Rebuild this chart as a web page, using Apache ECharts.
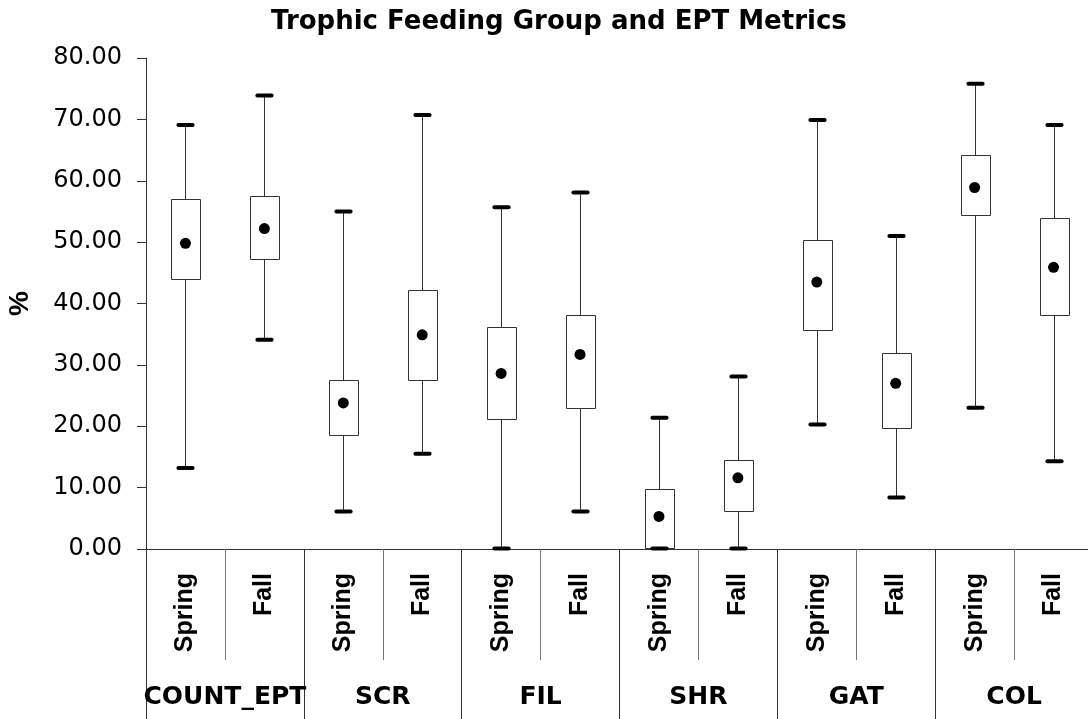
<!DOCTYPE html>
<html>
<head>
<meta charset="utf-8">
<title>Trophic Feeding Group and EPT Metrics</title>
<script src="https://cdn.jsdelivr.net/npm/echarts@6/dist/echarts.min.js"></script>
<style>
  html, body { margin: 0; padding: 0; background: #ffffff; }
  #chart { width: 1088px; height: 719px; }
</style>
</head>
<body>
<div id="chart"></div>
<script>
// Metric groups and sampling seasons
const groups = ['COUNT_EPT', 'SCR', 'FIL', 'SHR', 'GAT', 'COL'];
const seasons = ['Spring', 'Fall'];
const categories = ['Spring', 'Fall', 'Spring', 'Fall', 'Spring', 'Fall',
                    'Spring', 'Fall', 'Spring', 'Fall', 'Spring', 'Fall'];

// Box statistics per group/season (%)
const minValues  = [13.2, 34.1,  6.1, 15.5,  0.1,  6.1,  0.1,  0.1, 20.3,  8.4, 23.0, 14.3];
const q1Values   = [44.1, 47.3, 18.5, 27.6, 21.2, 22.9,  0.2,  6.2, 35.8, 19.7, 54.4, 38.2];
const q3Values   = [57.1, 57.5, 27.5, 42.2, 36.2, 38.1,  9.8, 14.5, 50.4, 31.9, 64.2, 54.0];
const maxValues  = [69.1, 73.9, 55.0, 70.7, 55.7, 58.1, 21.4, 28.1, 69.9, 51.0, 75.8, 69.1];
const meanValues = [49.8, 52.2, 23.8, 34.9, 28.6, 31.7,  5.3, 11.6, 43.5, 27.0, 58.9, 45.9];

// Y axis ticks
const yMin = 0, yMax = 80, yStep = 10;

const boxData = categories.map((c, i) => [i, minValues[i], q1Values[i], q3Values[i], maxValues[i]]);
const meanData = categories.map((c, i) => [i, meanValues[i]]);

const chart = echarts.init(document.getElementById('chart'), null, { renderer: 'canvas' });

// Whisker, interquartile box and end caps for one category
function renderBox(params, api) {
  const x = api.value(0);
  const lo = api.coord([x, api.value(1)]);
  const q1 = api.coord([x, api.value(2)]);
  const q3 = api.coord([x, api.value(3)]);
  const hi = api.coord([x, api.value(4)]);
  const band = api.size([1, 0])[0];
  const boxW = band * 0.37;
  const capHalf = band * 0.09;
  const cx = Math.round(lo[0]) + 0.5;
  return {
    type: 'group',
    children: [
      {
        type: 'line',
        shape: { x1: cx, y1: lo[1], x2: cx, y2: hi[1] },
        style: { stroke: '#333333', lineWidth: 1 }
      },
      {
        type: 'rect',
        shape: { x: Math.round(cx - boxW / 2) + 0.5, y: Math.round(q3[1]) + 0.5,
                 width: Math.round(boxW), height: Math.round(q1[1] - q3[1]) },
        style: { fill: '#ffffff', stroke: '#333333', lineWidth: 1 }
      },
      {
        type: 'line',
        shape: { x1: cx - capHalf, y1: hi[1], x2: cx + capHalf, y2: hi[1] },
        style: { stroke: '#000000', lineWidth: 4, lineCap: 'round' }
      },
      {
        type: 'line',
        shape: { x1: cx - capHalf, y1: lo[1], x2: cx + capHalf, y2: lo[1] },
        style: { stroke: '#000000', lineWidth: 4, lineCap: 'round' }
      }
    ]
  };
}

const option = {
  backgroundColor: '#ffffff',
  animation: false,
  title: {
    text: 'Trophic Feeding Group and EPT Metrics',
    left: 266,
    top: 4,
    textStyle: {
      fontFamily: 'DejaVu Sans',
      fontWeight: 'bold',
      fontSize: 26,
      color: '#000000'
    }
  },
  grid: {
    left: 146,
    right: -5,
    top: 58,
    bottom: 170,
    containLabel: false,
    outerBoundsMode: 'none'
  },
  xAxis: [
    {
      type: 'category',
      data: categories,
      position: 'bottom',
      boundaryGap: true,
      axisLine: { show: true, lineStyle: { color: '#333333', width: 1 } },
      axisTick: { show: true, length: 111, lineStyle: { color: '#777777', width: 1 } },
      axisLabel: {
        interval: 0,
        rotate: 90,
        margin: 24,
        fontFamily: 'Liberation Sans',
        fontWeight: 'bold',
        fontSize: 25,
        color: '#000000'
      },
      splitLine: { show: false }
    },
    {
      type: 'category',
      data: groups,
      position: 'bottom',
      boundaryGap: true,
      axisLine: { show: false },
      axisTick: { show: true, length: 172, lineStyle: { color: '#333333', width: 1 } },
      axisLabel: {
        interval: 0,
        margin: 136,
        fontFamily: 'DejaVu Sans',
        fontWeight: 'bold',
        fontSize: 25,
        color: '#000000'
      },
      splitLine: { show: false }
    }
  ],
  yAxis: {
    type: 'value',
    min: yMin,
    max: yMax,
    interval: yStep,
    name: '%',
    nameLocation: 'middle',
    nameRotate: 90,
    nameGap: 112,
    nameTextStyle: {
      fontFamily: 'Liberation Sans',
      fontWeight: 'bold',
      fontSize: 28,
      color: '#000000'
    },
    axisLine: { show: true, lineStyle: { color: '#333333', width: 1 } },
    axisTick: { show: true, inside: false, length: 9, lineStyle: { color: '#333333' } },
    axisLabel: {
      margin: 24,
      fontFamily: 'DejaVu Sans',
      fontSize: 24,
      color: '#000000',
      formatter: v => v.toFixed(2)
    },
    splitLine: { show: false }
  },
  series: [
    {
      name: 'range',
      type: 'custom',
      xAxisIndex: 0,
      renderItem: renderBox,
      encode: { x: 0, y: [1, 2, 3, 4] },
      data: boxData,
      clip: false,
      z: 2
    },
    {
      name: 'mean',
      type: 'scatter',
      xAxisIndex: 0,
      symbol: 'circle',
      symbolSize: 11,
      itemStyle: { color: '#000000', opacity: 1 },
      data: meanData,
      z: 3
    }
  ]
};

chart.setOption(option);
</script>
</body>
</html>
